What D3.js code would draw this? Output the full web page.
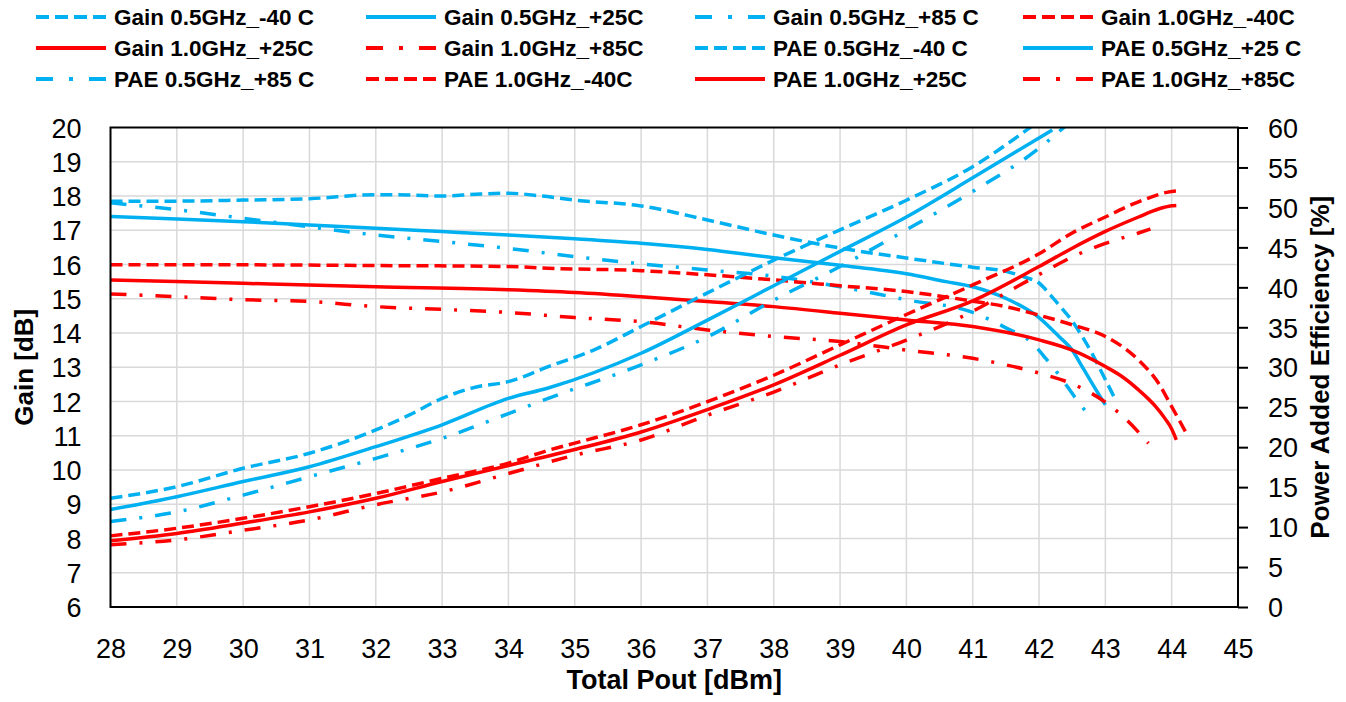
<!DOCTYPE html>
<html><head><meta charset="utf-8">
<script src="https://cdn.jsdelivr.net/npm/d3@7"></script>
<style>html,body{margin:0;padding:0;background:#fff;}svg{display:block;font-family:"Liberation Sans",Arial,sans-serif;}</style>
</head><body>
<svg id="chart" width="1346" height="702"></svg>
<script>
// ---------- data ----------
const xTicks = d3.range(28, 46, 1);
const gainTicks = d3.range(6, 21, 1);
const paeTicks = d3.range(0, 61, 5);

const gainB40x = [28,29,30,31,32,32.5,33,33.5,34,34.5,35,36,37,38,39,40,41,41.5,41.8,42,42.15,42.3,42.5,42.65,42.8,42.95,43.13];
const gainB40y = [17.85,17.85,17.88,17.92,18.04,18.03,18.0,18.05,18.08,18.0,17.88,17.71,17.3,16.86,16.48,16.19,15.92,15.8,15.62,15.46,15.16,14.82,14.35,13.9,13.4,12.83,12.14];

const gainB25x = [28,29,30,31,32,33,34,35,36,37,38,39,40,40.6,41,41.5,42,42.3,42.5,42.65,42.8,43];
const gainB25y = [17.4,17.33,17.25,17.15,17.06,16.96,16.86,16.75,16.62,16.44,16.2,15.98,15.73,15.5,15.35,15.01,14.45,13.9,13.5,13.02,12.53,11.9];

const gainB85x = [28,29,30,31,32,33,34,35,36,37,38,39,40,41,41.5,41.9,42.1,42.3,42.55,42.75];
const gainB85y = [17.8,17.6,17.35,17.1,16.86,16.67,16.47,16.23,16.02,15.84,15.66,15.35,14.97,14.6,14.15,13.7,13.26,12.78,12.1,11.6];

const gainR40x = [28,30,32,34,34.6,36,37,38,39,40,41,41.5,42,42.5,43,43.5,43.8,44,44.22];
const gainR40y = [15.99,15.99,15.97,15.94,15.89,15.82,15.7,15.55,15.38,15.21,14.93,14.77,14.52,14.24,13.9,13.21,12.54,11.85,11.08];

const gainR25x = [28,30,32,34,35,36,37,38,39,40,41,42,42.5,43,43.25,43.5,43.76,43.9,44,44.07];
const gainR25y = [15.55,15.45,15.35,15.26,15.18,15.06,14.92,14.77,14.58,14.38,14.19,13.8,13.5,13.02,12.73,12.34,11.85,11.5,11.2,10.88];

const gainR85x = [28,29,30,31,32,33,34,35,36,37,38,39,40,41,41.5,42,42.6,43,43.3,43.65];
const gainR85y = [15.14,15.06,14.97,14.92,14.77,14.69,14.6,14.45,14.33,14.09,13.9,13.75,13.5,13.26,13.07,12.83,12.43,11.98,11.5,10.78];

const paeB40x = [28,29,30,31,32,32.5,33,33.5,34,34.6,35.3,36,37,38,39,40,41,41.9];
const paeB40y = [13.6,15.06,17.36,19.24,22.15,24.0,26.1,27.5,28.2,30.07,32.2,35.1,39.3,43.4,47.2,50.9,55.1,60.2];

const paeB25x = [28,29,30,31,32,33,34,34.6,36,37,38,39,40,41,42,42.2];
const paeB25y = [12.2,13.8,15.7,17.55,20.06,22.8,26.1,27.4,31.75,35.9,40.2,44.5,48.8,53.7,58.7,59.7];

const paeB85x = [28,29,30,31,32,33,34,34.6,36,37,38,39,40,41,42,42.4];
const paeB85y = [10.7,11.9,14.0,16.3,18.6,21.1,24.2,26.1,30.3,33.8,38.4,42.6,47.2,52.0,57.4,60.2];

const paeR40x = [28,29,30,31,32,33,34,34.6,35,36,37,38,39,40,41,42,42.5,43,43.5,44,44.12];
const paeR40y = [8.9,9.85,11.1,12.55,14.2,16.1,18.0,19.6,20.5,22.8,25.7,29.0,32.8,36.6,40.3,44.2,46.8,48.8,50.7,52.0,52.1];

const paeR25x = [28,29,30,31,32,33,34,35,36,37,38,39,40,41,42,42.5,43,43.5,43.8,44,44.07];
const paeR25y = [8.3,9.2,10.5,11.9,13.6,15.7,17.7,19.7,21.9,24.7,27.8,31.5,35.3,38.3,42.6,44.9,47.0,48.8,49.8,50.2,50.25];

const paeR85x = [28,29,30,31,32,33,34,35,36,37,38,39,40,41,41.5,42,42.5,43,43.5,43.68];
const paeR85y = [7.8,8.4,9.6,10.9,12.8,14.4,16.7,19.0,20.9,24.0,26.9,30.3,33.4,37.0,39.3,41.6,43.8,45.5,46.8,47.3];

const seriesNames = [
  "Gain 0.5GHz_-40 C","Gain 0.5GHz_+25C","Gain 0.5GHz_+85 C","Gain 1.0GHz_-40C",
  "Gain 1.0GHz_+25C","Gain 1.0GHz_+85C","PAE 0.5GHz_-40 C","PAE 0.5GHz_+25 C",
  "PAE 0.5GHz_+85 C","PAE 1.0GHz_-40C","PAE 1.0GHz_+25C","PAE 1.0GHz_+85C"
];
const xTitle = "Total Pout [dBm]";
const yTitle = "Gain [dB]";
const y2Title = "Power Added Efficiency [%]";

// ---------- styles ----------
const BLUE = "#00B0F0", RED = "#FF0000";
const DASH = "12,6", DASHDOT = "16,13,3,13";
const series = [
  {x:gainB40x, y:gainB40y, axis:"g", color:BLUE, dash:DASH},
  {x:gainB25x, y:gainB25y, axis:"g", color:BLUE, dash:null},
  {x:gainB85x, y:gainB85y, axis:"g", color:BLUE, dash:DASHDOT},
  {x:gainR40x, y:gainR40y, axis:"g", color:RED, dash:DASH},
  {x:gainR25x, y:gainR25y, axis:"g", color:RED, dash:null},
  {x:gainR85x, y:gainR85y, axis:"g", color:RED, dash:DASHDOT},
  {x:paeB40x, y:paeB40y, axis:"p", color:BLUE, dash:DASH},
  {x:paeB25x, y:paeB25y, axis:"p", color:BLUE, dash:null},
  {x:paeB85x, y:paeB85y, axis:"p", color:BLUE, dash:DASHDOT},
  {x:paeR40x, y:paeR40y, axis:"p", color:RED, dash:DASH},
  {x:paeR25x, y:paeR25y, axis:"p", color:RED, dash:null},
  {x:paeR85x, y:paeR85y, axis:"p", color:RED, dash:DASHDOT}
].map((s,i)=>({...s, name:seriesNames[i]}));

// ---------- layout ----------
const svg = d3.select("#chart");
const L = 110.5, R = 1238, T = 127.5, B = 607;
const x = d3.scaleLinear().domain([28,45]).range([L,R]);
const yG = d3.scaleLinear().domain([6,20]).range([B,T]);
const yP = d3.scaleLinear().domain([0,60]).range([B,T]);

// gridlines
const grid = svg.append("g").attr("stroke","#d9d9d9").attr("stroke-width",1.5);
grid.selectAll(".vx").data(xTicks.slice(1,-1)).join("line")
  .attr("x1",d=>x(d)).attr("x2",d=>x(d)).attr("y1",T).attr("y2",B);
grid.selectAll(".hy").data(gainTicks.slice(1,-1)).join("line")
  .attr("y1",d=>yG(d)).attr("y2",d=>yG(d)).attr("x1",L).attr("x2",R);

// clip
svg.append("clipPath").attr("id","clip").append("rect")
  .attr("x",L).attr("y",T).attr("width",R-L).attr("height",B-T);

// lines
const plot = svg.append("g").attr("clip-path","url(#clip)");
series.forEach(s=>{
  const ys = s.axis==="g" ? yG : yP;
  const pts = s.x.map((v,i)=>[v,s.y[i]]);
  const line = d3.line().x(d=>x(d[0])).y(d=>ys(d[1])).curve(d3.curveMonotoneX);
  plot.append("path").datum(pts)
    .attr("d",line).attr("fill","none")
    .attr("stroke",s.color).attr("stroke-width",3.5)
    .attr("stroke-dasharray",s.dash)
    .attr("stroke-linejoin","round");
});

// frame
svg.append("rect").attr("x",L).attr("y",T).attr("width",R-L).attr("height",B-T)
  .attr("fill","none").attr("stroke","#000").attr("stroke-width",2);

// axes
const fontTick = 27;
const xAxis = d3.axisBottom(x).tickValues(xTicks).tickSize(0).tickPadding(0).tickFormat(d3.format("d"));
const gx = svg.append("g").attr("transform",`translate(0,${B})`).call(xAxis);
gx.select(".domain").remove();
gx.selectAll("text").attr("font-size",fontTick).attr("font-family","Liberation Sans, Arial, sans-serif")
  .attr("fill","#000").attr("y",51).attr("dy",0);

const yAxis = d3.axisLeft(yG).tickValues(gainTicks).tickSize(0).tickPadding(29).tickFormat(d3.format("d"));
const gy = svg.append("g").attr("transform",`translate(${L},0)`).call(yAxis);
gy.select(".domain").remove();
gy.selectAll("text").attr("font-size",fontTick).attr("font-family","Liberation Sans, Arial, sans-serif")
  .attr("fill","#000").attr("dy","0.36em");

const y2Axis = d3.axisRight(yP).tickValues(paeTicks).tickSize(10).tickPadding(20).tickFormat(d3.format("d"));
const gy2 = svg.append("g").attr("transform",`translate(${R},0)`).call(y2Axis);
gy2.select(".domain").remove();
gy2.selectAll("line").attr("stroke","#000").attr("stroke-width",2);
gy2.selectAll("text").attr("font-size",fontTick).attr("font-family","Liberation Sans, Arial, sans-serif")
  .attr("fill","#000").attr("dy","0.36em");

// titles
svg.append("text").attr("x",(L+R)/2).attr("y",689).attr("text-anchor","middle")
  .attr("font-size",27).attr("font-weight","bold").text(xTitle);
svg.append("text").attr("transform",`translate(33,${(T+B)/2}) rotate(-90)`).attr("text-anchor","middle")
  .attr("font-size",26).attr("font-weight","bold").text(yTitle);
svg.append("text").attr("transform",`translate(1329,${(T+B)/2}) rotate(-90)`).attr("text-anchor","middle")
  .attr("font-size",26).attr("font-weight","bold").text(y2Title);

// legend
const colX = [36, 366, 695, 1023];
const rowY = [17, 48, 79];
const leg = svg.append("g");
series.forEach((s,i)=>{
  const cx = colX[i%4], cy = rowY[Math.floor(i/4)];
  leg.append("line").attr("x1",cx).attr("x2",cx+70).attr("y1",cy).attr("y2",cy)
    .attr("stroke",s.color).attr("stroke-width",4)
    .attr("stroke-dasharray", s.dash===DASH ? "13,6" : (s.dash===DASHDOT ? "17,16,4,16" : null));
  leg.append("text").attr("x",cx+78).attr("y",cy).attr("dy","0.36em")
    .attr("font-size",22.5).attr("font-weight","bold").attr("fill","#000").text(s.name);
});
</script>
</body></html>
